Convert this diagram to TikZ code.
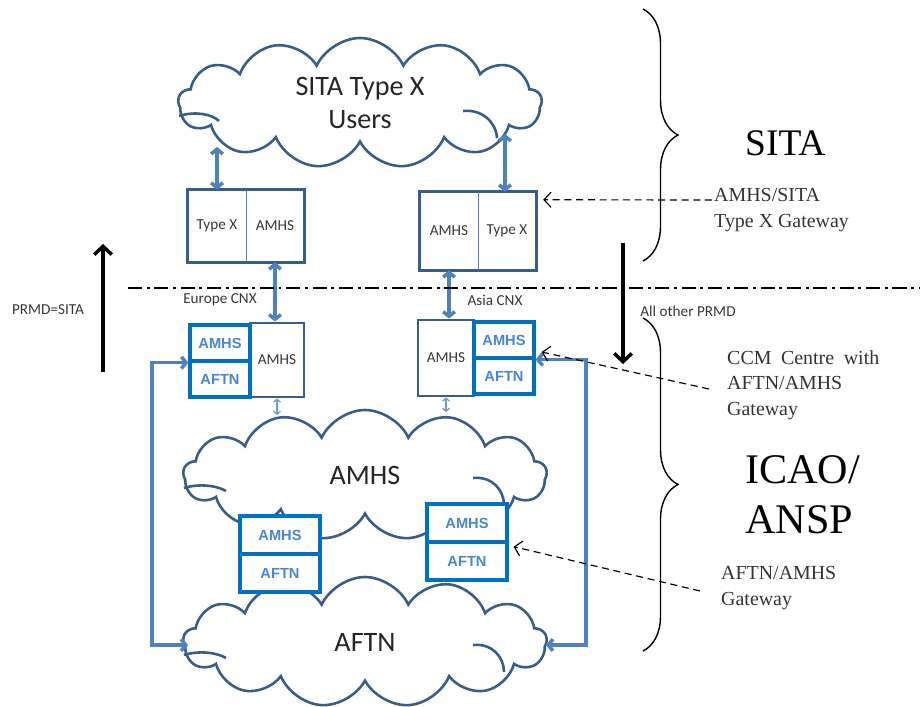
\documentclass[tikz,border=0pt]{standalone}
\usepackage{fontspec}
\setmainfont{Carlito}
\newfontfamily\tnrfont{Liberation Serif}
\newfontfamily\arialfont{Liberation Sans}
\usetikzlibrary{positioning}
\usetikzlibrary{calc}
\usetikzlibrary{arrows.meta,shapes.symbols,decorations.pathreplacing}

\definecolor{cloudblue}{RGB}{56,93,138}
\definecolor{arrowblue}{RGB}{79,129,189}
\definecolor{gwblue}{RGB}{0,112,192}
\definecolor{gwtext}{RGB}{74,134,208}
\definecolor{graytext}{RGB}{55,55,55}

\tikzset{
net/.style={cloud,cloud puffs=13,cloud puff arc=130,cloud ignores aspect,draw=cloudblue,line width=2.2pt,fill=white,
  minimum width=10.9cm,minimum height=3.9cm,align=center,text=black!85,font=\fontsize{24}{28}\selectfont},
curl/.style={draw=cloudblue,line width=2.2pt},
half/.style={inner sep=0pt,minimum width=1.74cm,text=graytext,font=\fontsize{13}{15}\selectfont},
gwpart/.style={draw=gwblue,line width=2.8pt,fill=white,inner sep=0pt,minimum width=1.8cm,minimum height=1.08cm,
  text=gwtext,font=\arialfont\bfseries\fontsize{12.5}{14}\selectfont},
midpart/.style={gwpart,minimum width=2.4cm,minimum height=1.14cm},
boxline/.style={draw=cloudblue,line width=2.4pt},
divline/.style={draw=arrowblue,line width=1pt},
duplex/.style={draw=arrowblue,line width=3pt,{Straight Barb[length=4pt,width=10pt]}-{Straight Barb[length=4pt,width=10pt]}},
tinylink/.style={draw=arrowblue!80,line width=1.1pt,{Straight Barb[length=2.5pt,width=6pt]}-{Straight Barb[length=2.5pt,width=6pt]}},
loopline/.style={draw=arrowblue,line width=3pt,{Straight Barb[length=4pt,width=10pt]}-{Straight Barb[length=4pt,width=10pt]}},
flowarrow/.style={draw=black,line width=3pt,-{Straight Barb[length=7pt,width=15pt]}},
pointer/.style={draw=black,line width=1pt,dash pattern=on 6pt off 4pt,-{Straight Barb[length=6pt,width=13pt]}},
sepline/.style={draw=black,line width=1.3pt,dash pattern=on 12pt off 4pt on 2.5pt off 4pt},
bracedeco/.style={draw=black,line width=1.2pt,decorate,decoration={brace,amplitude=1.05cm}},
smalllabel/.style={text=graytext,font=\fontsize{13}{15}\selectfont},
note/.style={anchor=north west,inner sep=0pt,align=left,text=black!80,font=\tnrfont\fontsize{17}{22}\selectfont},
bigtag/.style={inner sep=0pt,align=left,text=black,font=\tnrfont\fontsize{36}{43}\selectfont}
}

\begin{document}
\begin{tikzpicture}[x=0.03cm,y=-0.03cm]
\useasboundingbox (0,0) rectangle (920,707);

\node[net](users) at (360,103){SITA Type X\\Users};
\node[net](amhs) at (365,475){AMHS};
\node[net](aftn) at (365,642){AFTN};
\draw[curl](179,116) .. controls (195,111) and (212,114) .. (219,121);
\draw[curl](463,111) .. controls (482,109) and (496,122) .. (497,138);
\draw[curl](184,488) .. controls (200,483) and (218,486) .. (226,491);
\draw[curl](473,478) .. controls (492,476) and (504,490) .. (504,505);
\draw[curl](184,655) .. controls (200,650) and (218,653) .. (226,658);
\draw[curl](473,645) .. controls (492,643) and (504,657) .. (504,672);

% gateways SITA side
\node[half,minimum height=2.16cm](gwEuX) at (217,226){Type X};
\node[half,minimum height=2.16cm](gwEuA) at (275,226){AMHS};
\draw[boxline](gwEuX.north west) rectangle (gwEuA.south east);
\draw[divline](gwEuX.north east)--(gwEuX.south east);
\node[half,minimum height=2.34cm](gwAsA) at (449,231){AMHS};
\node[half,minimum height=2.34cm](gwAsX) at (507,231){Type X};
\draw[boxline](gwAsA.north west) rectangle (gwAsX.south east);
\draw[divline](gwAsA.north east)--(gwAsA.south east);

% CCM centres
\node[half,draw=cloudblue,line width=2.4pt,minimum width=1.62cm,minimum height=2.22cm](ccEuA) at (277,360){AMHS};
\node[gwpart](ccEuM) at (220,343){AMHS};
\node[gwpart](ccEuF) at (220,379){AFTN};
\node[half,draw=cloudblue,line width=2.4pt,minimum width=1.68cm,minimum height=2.28cm](ccAsA) at (446,358){AMHS};
\node[gwpart](ccAsM) at (504,340){AMHS};
\node[gwpart](ccAsF) at (504,376){AFTN};

% AFTN/AMHS gateways
\node[midpart](midLM) at (280,535){AMHS};
\node[midpart](midLF) at (280,573){AFTN};
\node[midpart](midRM) at (467,523){AMHS};
\node[midpart](midRF) at (467,561){AFTN};

\coordinate(euUp) at (217,147);
\coordinate(asUp) at (505,134);
\coordinate(amhsInL) at (277,415);
\coordinate(amhsInR) at (446,412);
\coordinate(aftnL) at (188,645);
\coordinate(loopL) at (152,645);
\coordinate(aftnR) at (546,645);
\coordinate(loopR) at (586,645);

\path
(euUp) edge[duplex] (gwEuX.north)
(asUp) edge[duplex] (asUp |- gwAsX.north)
(gwEuA.south) edge[duplex] (gwEuA.south |- ccEuA.north)
(gwAsA.south) edge[duplex] (gwAsA.south |- ccAsA.north)
(ccEuA.south) edge[tinylink] (amhsInL)
(ccAsA.south) edge[tinylink] (amhsInR);

\draw[loopline](aftnL)--(loopL)|-(ccEuM.south west);
\draw[loopline](aftnR)--(loopR)|-(ccAsM.south east);

% PRMD boundary
\coordinate(sepL) at (128,288);
\coordinate(sepR) at (920,288);
\draw[sepline](sepL)--(sepR);
\node[smalllabel](euCnx) at (220,300){Europe CNX};
\node[smalllabel](asCnx) at (495,300){Asia CNX};
\node[smalllabel](prmdSita) at (48,310){PRMD=SITA};
\node[smalllabel](prmdOther) at (688,311){All other PRMD};

\coordinate(upS) at (103,372);
\coordinate(upN) at (103,244);
\coordinate(downN) at (623,243);
\coordinate(downS) at (623,364);
\draw[flowarrow](upS)--(upN);
\draw[flowarrow](downN)--(downS);

% braces and tags
\coordinate(sitaTop) at (643,9);
\coordinate(sitaBot) at (643,261);
\coordinate(icaoTop) at (643,318);
\coordinate(icaoBot) at (643,651);
\draw[bracedeco](sitaTop)--(sitaBot);
\draw[bracedeco](icaoTop)--(icaoBot);
\node[bigtag,font=\tnrfont\fontsize{32}{38}\selectfont,anchor=west](sitaTag) at (745,143){SITA};
\node[bigtag,anchor=west](icaoTag) at (745,495){ICAO/\\ANSP};

% notes
\node[note](gwNote) at (714,188){AMHS/SITA\\Type X Gateway};
\node[note](ccmNote) at (727,350){\makebox[4.56cm][s]{CCM Centre with}\\AFTN/AMHS\\Gateway};
\node[note](midNote) at (721,566){AFTN/AMHS\\Gateway};
\coordinate(gwTail) at (712,200);
\coordinate(ccmTail) at (709,389);
\coordinate(midTail) at (700,591);
\draw[pointer](gwTail)--($(gwAsX.north east)+(7,8)$);
\draw[pointer](ccmTail)--($(ccAsM.east)+(6,12)$);
\draw[pointer](midTail)--($(midRM.south east)+(5,3)$);
\end{tikzpicture}
\end{document}
